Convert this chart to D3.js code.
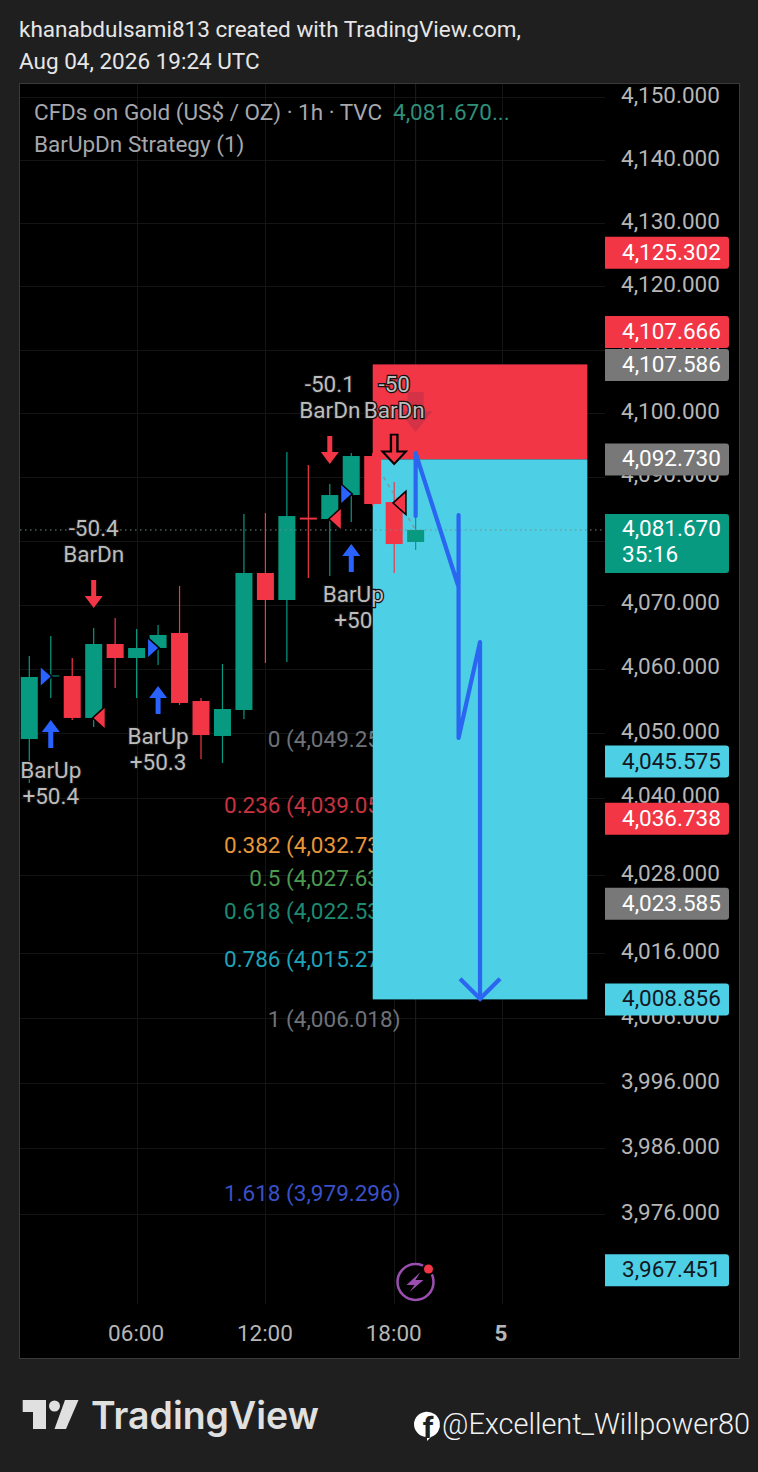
<!DOCTYPE html>
<html>
<head>
<meta charset="utf-8">
<script src="https://cdn.jsdelivr.net/npm/d3@7"></script>
<style>
html, body { margin: 0; padding: 0; background: #1f1f1f; }
svg { display: block; }
text { font-family: Roboto, sans-serif; }
</style>
</head>
<body>
<div id="chart"></div>
<script>
// candles
var opens  = [4049.08, 4058.88, 4058.88, 4052.35, 4063.86, 4061.68, 4063.24, 4065.58, 4054.99, 4049.55, 4053.59, 4074.94, 4070.72, 4083.60, 4083.38, 4087.14, 4093.26, 4086.04, 4079.79];
var highs  = [4061.99, 4065.11, 4061.68, 4066.35, 4067.91, 4066.20, 4066.82, 4072.91, 4055.45, 4060.75, 4084.17, 4084.32, 4093.89, 4091.85, 4088.87, 4093.73, 4093.73, 4089.18, 4083.70];
var lows   = [4042.26, 4055.45, 4052.03, 4050.95, 4057.01, 4055.45, 4060.59, 4054.37, 4045.98, 4045.36, 4052.19, 4060.90, 4061.06, 4074.16, 4074.47, 4082.91, 4085.50, 4074.94, 4078.53];
var closes = [4058.72, 4058.96, 4052.35, 4063.86, 4061.68, 4063.24, 4065.27, 4054.68, 4049.70, 4053.74, 4074.94, 4070.72, 4083.85, 4083.30, 4087.14, 4093.26, 4085.73, 4079.47, 4081.67];

var priceTicks = [4150, 4140, 4130, 4120, 4110, 4100, 4090, 4080, 4070, 4060, 4050, 4040, 4028, 4016, 4006, 3996, 3986, 3976];
var timeTickIndex = [5, 11, 17, 22];
var timeTickLabels = ["06:00", "12:00", "18:00", "5"];

// fib levels
var fibLabels = ["0 (4,049.257)", "0.236 (4,039.053)", "0.382 (4,032.739)", "0.5 (4,027.637)", "0.618 (4,022.535)", "0.786 (4,015.271)", "1 (4,006.018)", "1.618 (3,979.296)"];
var fibPrices = [4049.257, 4039.053, 4032.739, 4027.637, 4022.535, 4015.271, 4006.018, 3979.296];
var fibColors = ["#6f7279", "#c9323f", "#e8963a", "#4a9a50", "#1d8a72", "#1fa3b8", "#6f7279", "#3a50c8"];

// strategy signals: big arrows
var arrowDirs   = ["up", "down", "up", "down", "up", "down"];
var arrowIndex  = [1, 3, 6, 14, 15, 17];
var arrowPrices = [4052.03, 4069.47, 4057.32, 4092.00, 4079.47, 4092.00];
var arrowLine1  = ["BarUp", "-50.4", "BarUp", "-50.1", "BarUp", "-50"];
var arrowLine2  = ["+50.4", "BarDn", "+50.3", "BarDn", "+50", "BarDn"];

// small entry triangles: index of tip and price of tip
var triDirs   = ["right", "left", "right", "left", "right", "left"];
var triIndex  = [1, 3, 6, 14, 15, 17];
var triPrices = [4058.80, 4052.35, 4063.24, 4083.38, 4087.30, 4085.90];

// the long/short box
var boxStart = 16;
var boxEnd = 26;
var boxTop = 4107.666;
var boxMid = 4092.730;
var boxBottom = 4008.856;

// hand drawn blue path [bar index, price]
var drawnIndex  = [18, 18, 20, 20, 20, 21, 21];
var drawnPrices = [4083.85, 4093.73, 4072.75, 4084.00, 4049.24, 4064.17, 4008.95];
var dashIndex  = [16.5, 18];
var dashPrices = [4089.97, 4081.67];

// labels on the price scale
var lastPrice = 4081.670;
var tagPrices = [4125.302, 4107.666, 4107.586, 4092.730, 4045.575, 4036.738, 4023.585, 4008.856, 3967.451];
var tagColors = ["#f23645", "#f23645", "#787878", "#787878", "#4dd0e6", "#f23645", "#787878", "#4dd0e6", "#4dd0e6"];
var tagText   = ["#ffffff", "#ffffff", "#ffffff", "#ffffff", "#131722", "#ffffff", "#ffffff", "#131722", "#131722"];

var W = 758, H = 1472;
var up = "#089981", down = "#f23645", cyan = "#4dd0e6", blue = "#2962ff";
var axisColor = "#b6b6b6";
var plotRight = 605;
var fontSize = "22.5px";

var svg = d3.select("#chart").append("svg").attr("width", W).attr("height", H);

var x = d3.scaleLinear().domain([0, 22]).range([29.3, 501.5]);
var y = d3.scaleLog().domain([4150, 3976]).range([97, 1214]);

svg.append("text").text("khanabdulsami813 created with TradingView.com,")
    .attr("x", 19).attr("y", 37).attr("fill", "#e6e6e6").style("font-size", fontSize);
svg.append("text").text("Aug 04, 2026 19:24 UTC")
    .attr("x", 19).attr("y", 69).attr("fill", "#e6e6e6").style("font-size", fontSize);

// pane
svg.append("rect").attr("x", 19.5).attr("y", 83.5).attr("width", 720).attr("height", 1275)
    .attr("fill", "#000").attr("stroke", "#3a3a3a");

// grid
var grid = svg.append("g").attr("stroke", "#141414");
grid.selectAll(".h").data(priceTicks).enter().append("line")
    .attr("x1", 20).attr("x2", plotRight)
    .attr("y1", function(d) { return Math.round(y(d)) + 0.5; })
    .attr("y2", function(d) { return Math.round(y(d)) + 0.5; });
grid.selectAll(".v").data(timeTickIndex).enter().append("line")
    .attr("y1", 84).attr("y2", 1304)
    .attr("x1", function(d) { return Math.round(x(d)) + 0.5; })
    .attr("x2", function(d) { return Math.round(x(d)) + 0.5; });

// event line going down to the icon
svg.append("line").attr("x1", x(18)).attr("x2", x(18)).attr("y1", 84).attr("y2", 1266)
    .attr("stroke", "#1c1c30");

// fib labels sit under the box
svg.append("g").selectAll("text").data(fibLabels).enter().append("text")
    .text(function(d) { return d; })
    .attr("x", 400.5)
    .attr("y", function(d, i) { return y(fibPrices[i]) + 1; })
    .attr("dy", "0.35em")
    .attr("text-anchor", "end")
    .attr("fill", function(d, i) { return fibColors[i]; })
    .style("font-size", fontSize);

// box
svg.append("rect").attr("x", x(boxStart)).attr("width", x(boxEnd) - x(boxStart))
    .attr("y", y(boxTop)).attr("height", y(boxMid) - y(boxTop)).attr("fill", down);
svg.append("rect").attr("x", x(boxStart)).attr("width", x(boxEnd) - x(boxStart))
    .attr("y", y(boxMid)).attr("height", y(boxBottom) - y(boxMid)).attr("fill", cyan);

// candles
var candles = svg.append("g");
candles.selectAll("line").data(opens).enter().append("line")
    .attr("x1", function(d, i) { return x(i); })
    .attr("x2", function(d, i) { return x(i); })
    .attr("y1", function(d, i) { return y(highs[i]); })
    .attr("y2", function(d, i) { return y(lows[i]); })
    .attr("stroke", function(d, i) { return closes[i] >= d ? up : down; })
    .attr("stroke-width", 1.2);
candles.selectAll("rect").data(opens).enter().append("rect")
    .attr("x", function(d, i) { return x(i) - 8.5; })
    .attr("width", 17)
    .attr("y", function(d, i) { return y(Math.max(d, closes[i])); })
    .attr("height", function(d, i) { return Math.max(1, Math.abs(y(d) - y(closes[i]))); })
    .attr("fill", function(d, i) { return closes[i] >= d ? up : down; });

// last price line
svg.append("line").attr("x1", 20).attr("x2", plotRight).attr("y1", y(lastPrice)).attr("y2", y(lastPrice))
    .attr("stroke", "#6f8f88").attr("stroke-dasharray", "1.5 3.5");

// drawn lines
svg.append("path")
    .attr("d", d3.line().x(function(d) { return x(d); }).y(function(d, i) { return y(dashPrices[i]); })(dashIndex))
    .attr("fill", "none").attr("stroke", "#7f9aa6").attr("stroke-width", 1.5).attr("stroke-dasharray", "4 4");
var drawn = d3.line().x(function(d) { return x(d); }).y(function(d, i) { return y(drawnPrices[i]); });
svg.append("path").attr("d", drawn(drawnIndex))
    .attr("fill", "none").attr("stroke", "#2a66f0").attr("stroke-width", 4.2)
    .attr("stroke-linejoin", "round").attr("stroke-linecap", "round");
var endX = x(drawnIndex[6]), endY = y(drawnPrices[6]);
svg.append("path").attr("d", "M" + (endX - 20) + "," + (endY - 20) + "L" + endX + "," + endY + "L" + (endX + 20) + "," + (endY - 20))
    .attr("fill", "none").attr("stroke", "#2a66f0").attr("stroke-width", 4.2);

// faded arrow from the strategy, behind the last bar
var fx = x(18), fy = 432;
svg.append("path")
    .attr("d", "M" + fx + "," + fy + "l-17,-21h9v-19h16v19h9z")
    .attr("fill", "#d03347").attr("opacity", 0.9);

// arrows
function arrowPath(dir) {
    // tip at 0,0
    if (dir == "up") return "M0,0l9,12h-6.5v16h-5v-16h-6.5z";
    return "M0,0l-9,-12h6.5v-16h5v16h6.5z";
}
var arrows = svg.append("g");
arrows.selectAll("path").data(arrowDirs).enter().append("path")
    .attr("d", function(d) { return arrowPath(d); })
    .attr("transform", function(d, i) {
        // the selected signal is drawn a bit larger
        return "translate(" + x(arrowIndex[i]) + "," + y(arrowPrices[i]) + ")" + (i == 5 ? " scale(1.3,1.05)" : "");
    })
    .attr("fill", function(d) { return d == "up" ? blue : down; })
    .attr("stroke", function(d, i) { return i == 5 ? "#000" : "none"; })
    .attr("stroke-width", 1.8);

// triangles
function triPath(dir) {
    if (dir == "right") return "M0,0l-10,-9v18z";
    return "M0,0l11,-10v20z";
}
svg.append("g").selectAll("path").data(triDirs).enter().append("path")
    .attr("d", function(d) { return triPath(d); })
    .attr("transform", function(d, i) { return "translate(" + x(triIndex[i]) + "," + y(triPrices[i]) + ")"; })
    .attr("fill", function(d) { return d == "right" ? blue : down; })
    .attr("stroke", "#000").attr("stroke-width", 3)
    .attr("paint-order", "stroke");

// arrow labels
function signalLabel(d, i, line) {
    var isUp = arrowDirs[i] == "up";
    var tip = y(arrowPrices[i]);
    var base = isUp ? tip + 50.5 : tip - 54;
    return base + (line - (isUp ? 0 : 1)) * 26;
}
var labels = svg.append("g").selectAll("g").data(arrowDirs).enter().append("g");
labels.append("text").text(function(d, i) { return arrowLine1[i]; })
    .attr("x", function(d, i) { return x(arrowIndex[i]) + (i == 4 ? 2 : 0); })
    .attr("y", function(d, i) { return signalLabel(d, i, 0); });
labels.append("text").text(function(d, i) { return arrowLine2[i]; })
    .attr("x", function(d, i) { return x(arrowIndex[i]) + (i == 4 ? 2 : 0); })
    .attr("y", function(d, i) { return signalLabel(d, i, 1); });
labels.selectAll("text")
    .attr("dy", "0.35em")
    .attr("text-anchor", "middle")
    .attr("fill", "#bdbdbd")
    .attr("stroke", "#111")
    .attr("stroke-width", 2.5)
    .attr("paint-order", "stroke")
    .style("font-size", fontSize);

// axes
var priceAxis = d3.axisRight(y).tickValues(priceTicks).tickFormat(d3.format(",.3f")).tickSize(0).tickPadding(0);
var pa = svg.append("g").attr("transform", "translate(621,-2)").call(priceAxis);
pa.select(".domain").remove();
pa.selectAll("text").attr("fill", axisColor).style("font-size", fontSize);

var timeAxis = d3.axisBottom(x).tickValues(timeTickIndex)
    .tickFormat(function(d, i) { return timeTickLabels[i]; }).tickSize(0).tickPadding(0);
var ta = svg.append("g").attr("transform", "translate(-1,1325)").call(timeAxis);
ta.select(".domain").remove();
ta.selectAll("text").attr("fill", axisColor).style("font-size", fontSize)
    .style("font-weight", function(d) { return d == 22 ? 700 : 400; });

// price tags, pushed up when the next one would sit on them
var tagY = tagPrices.map(function(d) { return y(d); });
for (var t = tagY.length - 2; t >= 0; t--) {
    if (tagY[t + 1] - tagY[t] < 33) tagY[t] = tagY[t + 1] - 33;
}
var tags = svg.append("g").selectAll("g").data(tagPrices).enter().append("g")
    .attr("transform", function(d, i) { return "translate(605," + (tagY[i] - 16) + ")"; });
tags.append("path")
    .attr("d", "M0,0H121a3,3 0 0 1 3,3V29a3,3 0 0 1 -3,3H0z")
    .attr("fill", function(d, i) { return tagColors[i]; });
tags.append("text").text(function(d) { return d3.format(",.3f")(d); })
    .attr("x", 17).attr("y", 15).attr("dy", "0.36em")
    .attr("fill", function(d, i) { return tagText[i]; })
    .style("font-size", fontSize);

// last price tag with countdown
var lastTag = svg.append("g").attr("transform", "translate(605,514)");
lastTag.append("path").attr("d", "M0,0H121a3,3 0 0 1 3,3V56a3,3 0 0 1 -3,3H0z").attr("fill", up);
lastTag.append("text").text(d3.format(",.3f")(lastPrice)).attr("x", 17).attr("y", 22).attr("fill", "#fff").style("font-size", fontSize);
lastTag.append("text").text("35:16").attr("x", 17).attr("y", 48).attr("fill", "#fff").style("font-size", fontSize);

// legend
svg.append("text").text("CFDs on Gold (US$ / OZ) · 1h · TVC").attr("x", 34).attr("y", 120)
    .attr("fill", "#a6a8ad").style("font-size", fontSize);
svg.append("text").text("4,081.670...").attr("x", 393).attr("y", 120)
    .attr("fill", "#2f8f7a").style("font-size", fontSize);
svg.append("text").text("BarUpDn Strategy (1)").attr("x", 34).attr("y", 152)
    .attr("fill", "#a6a8ad").style("font-size", fontSize);

// lightning icon
var icon = svg.append("g").attr("transform", "translate(415.5,1282)");
icon.append("circle").attr("r", 18).attr("fill", "#000").attr("stroke", "#9a4fb0").attr("stroke-width", 2.5);
icon.append("path").attr("d", "M5,-10L-9,3H-1L-6,10L8,-2H0z").attr("fill", "#9a4fb0");
icon.append("circle").attr("cx", 13).attr("cy", -13).attr("r", 6.5).attr("fill", "#000");
icon.append("circle").attr("cx", 13).attr("cy", -13).attr("r", 4.5).attr("fill", "#f23645");

// footer logo
var logo = svg.append("g").attr("fill", "#e0e0e0");
logo.append("path").attr("d", "M22.7,1400H46V1429H33V1412H22.7z");
logo.append("circle").attr("cx", 54.5).attr("cy", 1406).attr("r", 5.5);
logo.append("path").attr("d", "M65,1400H78.5L66,1429H54.5z");
svg.append("text").text("TradingView").attr("x", 91).attr("y", 1429)
    .attr("fill", "#e0e0e0").style("font-family", "Inter, sans-serif").style("font-weight", 600)
    .style("font-size", "38px").attr("textLength", 228).attr("lengthAdjust", "spacingAndGlyphs");

// facebook handle
var fb = svg.append("g").attr("transform", "translate(427,1426)");
fb.append("path").attr("d", "M-13,-2a13,13 0 1 1 17,13l-4,4v-4a13,13 0 0 1 -13,-13z").attr("fill", "#fff");
fb.append("text").text("f").attr("x", 1).attr("y", 12).attr("text-anchor", "middle")
    .attr("fill", "#1f1f1f").style("font-size", "30px").style("font-weight", 700);
svg.append("text").text("@Excellent_Willpower80").attr("x", 442).attr("y", 1434)
    .attr("fill", "#f2f2f2").style("font-size", "29px").style("font-weight", 300)
    .attr("textLength", 308).attr("lengthAdjust", "spacingAndGlyphs");
</script>
</body>
</html>
